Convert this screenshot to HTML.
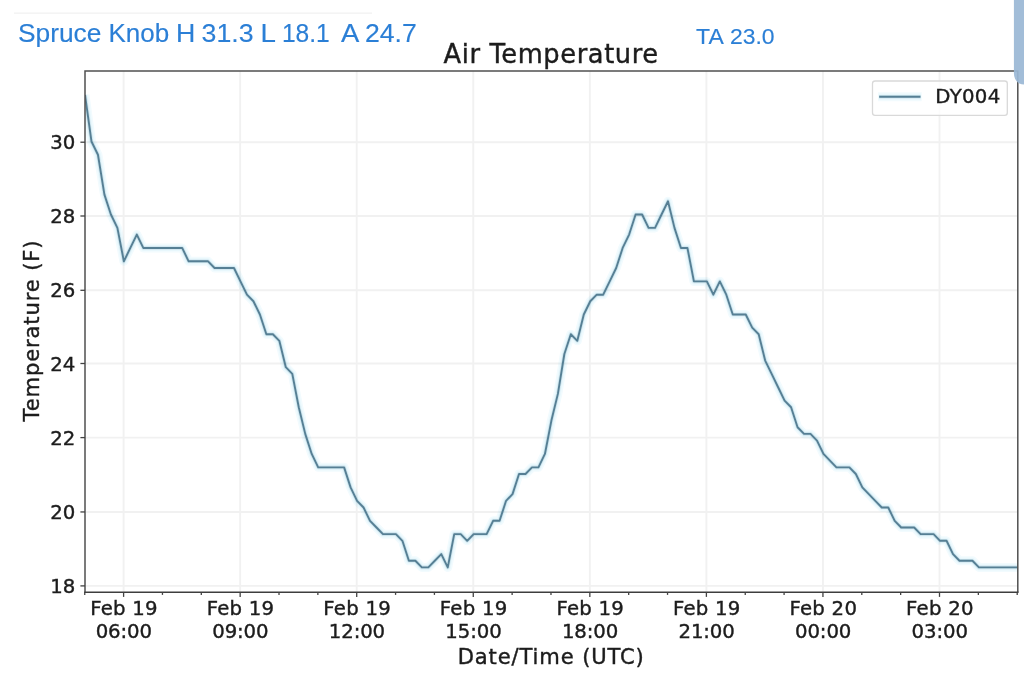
<!DOCTYPE html>
<html lang="en">
<head>
<meta charset="utf-8">
<title>Spruce Knob Air Temperature</title>
<style>
html,body{margin:0;padding:0;background:#fff;}
body{width:1024px;height:680px;overflow:hidden;position:relative;}
body>svg{position:absolute;left:0;top:0;display:block;}
.dj{font-family:'DejaVu Sans', 'Liberation Sans', sans-serif;fill:#1c1c1c;stroke:#1c1c1c;stroke-width:0.4px;}
.hd{font-family:'Liberation Sans', sans-serif;fill:#2b7fd6;stroke:#2b7fd6;stroke-width:0.15px;}
</style>
</head>
<body>
<svg width="1024" height="680" viewBox="0 0 1024 680">
<rect x="0" y="0" width="1024" height="680" fill="#ffffff"/>
<line x1="14" y1="13.1" x2="372" y2="13.1" stroke="#f1f1f1" stroke-width="1.2"/>
<text class="hd" y="41.9" font-size="25.8"><tspan x="18.0" textLength="83.4" lengthAdjust="spacingAndGlyphs">Spruce</tspan> <tspan x="108.4" textLength="60.7" lengthAdjust="spacingAndGlyphs">Knob</tspan> <tspan x="176.0" textLength="19.3" lengthAdjust="spacingAndGlyphs">H</tspan> <tspan x="201.6" textLength="52.0" lengthAdjust="spacingAndGlyphs">31.3</tspan> <tspan x="260.4" textLength="14.4" lengthAdjust="spacingAndGlyphs">L</tspan> <tspan x="281.9" textLength="47.8" lengthAdjust="spacingAndGlyphs">18.1</tspan> <tspan x="341.1" textLength="16.8" lengthAdjust="spacingAndGlyphs">A</tspan> <tspan x="364.9" textLength="51.8" lengthAdjust="spacingAndGlyphs">24.7</tspan></text>
<text class="hd" y="43.5" font-size="22"><tspan x="696.1" textLength="26.4" lengthAdjust="spacingAndGlyphs">TA</tspan> <tspan x="730.0" textLength="44.6" lengthAdjust="spacingAndGlyphs">23.0</tspan></text>
<text class="dj" transform="translate(443.6,62.7) scale(1,1.045)" font-size="25.7" letter-spacing="0.6">Air Temperature</text>
<g stroke="#f1f1f1" stroke-width="1.9" fill="none">
<line x1="123.60" y1="71.0" x2="123.60" y2="592.0"/>
<line x1="240.16" y1="71.0" x2="240.16" y2="592.0"/>
<line x1="356.71" y1="71.0" x2="356.71" y2="592.0"/>
<line x1="473.27" y1="71.0" x2="473.27" y2="592.0"/>
<line x1="589.83" y1="71.0" x2="589.83" y2="592.0"/>
<line x1="706.39" y1="71.0" x2="706.39" y2="592.0"/>
<line x1="822.94" y1="71.0" x2="822.94" y2="592.0"/>
<line x1="939.50" y1="71.0" x2="939.50" y2="592.0"/>
<line x1="85.0" y1="585.90" x2="1017.8" y2="585.90"/>
<line x1="85.0" y1="511.95" x2="1017.8" y2="511.95"/>
<line x1="85.0" y1="437.60" x2="1017.8" y2="437.60"/>
<line x1="85.0" y1="363.50" x2="1017.8" y2="363.50"/>
<line x1="85.0" y1="290.30" x2="1017.8" y2="290.30"/>
<line x1="85.0" y1="216.00" x2="1017.8" y2="216.00"/>
<line x1="85.0" y1="142.20" x2="1017.8" y2="142.20"/>
</g>
<svg x="85.0" y="71.0" width="932.80" height="521.0" viewBox="85.0 71.0 932.80 521.0">
<g fill="none" stroke-linejoin="round" stroke-linecap="butt" style="mix-blend-mode:multiply">
<polyline points="85.00,94.90 91.48,141.46 97.96,154.75 104.43,194.60 110.91,214.52 117.39,227.89 123.87,261.32 130.34,247.95 136.82,234.57 143.30,247.95 149.78,247.95 156.26,247.95 162.73,247.95 169.21,247.95 175.69,247.95 182.17,247.95 188.64,261.32 195.12,261.32 201.60,261.32 208.08,261.32 214.56,268.01 221.03,268.01 227.51,268.01 233.99,268.01 240.47,281.38 246.94,294.69 253.42,301.28 259.90,314.46 266.38,334.22 272.86,334.22 279.33,340.81 285.81,367.21 292.29,373.87 298.77,407.22 305.24,433.89 311.72,453.96 318.20,467.34 324.68,467.34 331.16,467.34 337.63,467.34 344.11,467.34 350.59,487.41 357.07,500.80 363.54,507.49 370.02,520.82 376.50,527.48 382.98,534.13 389.46,534.13 395.93,534.13 402.41,540.79 408.89,560.76 415.37,560.76 421.84,567.41 428.32,567.41 434.80,560.76 441.28,554.10 447.76,567.41 454.23,534.13 460.71,534.13 467.19,540.79 473.67,534.13 480.14,534.13 486.62,534.13 493.10,520.82 499.58,520.82 506.06,500.80 512.53,494.11 519.01,474.03 525.49,474.03 531.97,467.34 538.44,467.34 544.92,453.96 551.40,420.56 557.88,393.88 564.36,353.98 570.83,334.22 577.31,340.81 583.79,314.46 590.27,301.28 596.74,294.69 603.22,294.69 609.70,281.38 616.18,268.01 622.66,247.95 629.13,234.57 635.61,214.52 642.09,214.52 648.57,227.89 655.04,227.89 661.52,214.52 668.00,201.24 674.48,227.89 680.96,247.95 687.43,247.95 693.91,281.38 700.39,281.38 706.87,281.38 713.34,294.69 719.82,281.38 726.30,294.69 732.78,314.46 739.26,314.46 745.73,314.46 752.21,327.63 758.69,334.22 765.17,360.57 771.64,373.87 778.12,387.21 784.60,400.55 791.08,407.22 797.56,427.23 804.03,433.89 810.51,433.89 816.99,440.57 823.47,453.96 829.94,460.65 836.42,467.34 842.90,467.34 849.38,467.34 855.86,474.03 862.33,487.41 868.81,494.11 875.29,500.80 881.77,507.49 888.24,507.49 894.72,520.82 901.20,527.48 907.68,527.48 914.16,527.48 920.63,534.13 927.11,534.13 933.59,534.13 940.07,540.79 946.54,540.79 953.02,554.10 959.50,560.76 965.98,560.76 972.46,560.76 978.93,567.41 985.41,567.41 991.89,567.41 998.37,567.41 1004.84,567.41 1011.32,567.41 1017.80,567.41" stroke="#f2fbfe" stroke-width="9"/>
<polyline points="85.00,94.90 91.48,141.46 97.96,154.75 104.43,194.60 110.91,214.52 117.39,227.89 123.87,261.32 130.34,247.95 136.82,234.57 143.30,247.95 149.78,247.95 156.26,247.95 162.73,247.95 169.21,247.95 175.69,247.95 182.17,247.95 188.64,261.32 195.12,261.32 201.60,261.32 208.08,261.32 214.56,268.01 221.03,268.01 227.51,268.01 233.99,268.01 240.47,281.38 246.94,294.69 253.42,301.28 259.90,314.46 266.38,334.22 272.86,334.22 279.33,340.81 285.81,367.21 292.29,373.87 298.77,407.22 305.24,433.89 311.72,453.96 318.20,467.34 324.68,467.34 331.16,467.34 337.63,467.34 344.11,467.34 350.59,487.41 357.07,500.80 363.54,507.49 370.02,520.82 376.50,527.48 382.98,534.13 389.46,534.13 395.93,534.13 402.41,540.79 408.89,560.76 415.37,560.76 421.84,567.41 428.32,567.41 434.80,560.76 441.28,554.10 447.76,567.41 454.23,534.13 460.71,534.13 467.19,540.79 473.67,534.13 480.14,534.13 486.62,534.13 493.10,520.82 499.58,520.82 506.06,500.80 512.53,494.11 519.01,474.03 525.49,474.03 531.97,467.34 538.44,467.34 544.92,453.96 551.40,420.56 557.88,393.88 564.36,353.98 570.83,334.22 577.31,340.81 583.79,314.46 590.27,301.28 596.74,294.69 603.22,294.69 609.70,281.38 616.18,268.01 622.66,247.95 629.13,234.57 635.61,214.52 642.09,214.52 648.57,227.89 655.04,227.89 661.52,214.52 668.00,201.24 674.48,227.89 680.96,247.95 687.43,247.95 693.91,281.38 700.39,281.38 706.87,281.38 713.34,294.69 719.82,281.38 726.30,294.69 732.78,314.46 739.26,314.46 745.73,314.46 752.21,327.63 758.69,334.22 765.17,360.57 771.64,373.87 778.12,387.21 784.60,400.55 791.08,407.22 797.56,427.23 804.03,433.89 810.51,433.89 816.99,440.57 823.47,453.96 829.94,460.65 836.42,467.34 842.90,467.34 849.38,467.34 855.86,474.03 862.33,487.41 868.81,494.11 875.29,500.80 881.77,507.49 888.24,507.49 894.72,520.82 901.20,527.48 907.68,527.48 914.16,527.48 920.63,534.13 927.11,534.13 933.59,534.13 940.07,540.79 946.54,540.79 953.02,554.10 959.50,560.76 965.98,560.76 972.46,560.76 978.93,567.41 985.41,567.41 991.89,567.41 998.37,567.41 1004.84,567.41 1011.32,567.41 1017.80,567.41" stroke="#e8f7fc" stroke-width="6"/>
<polyline points="85.00,94.90 91.48,141.46 97.96,154.75 104.43,194.60 110.91,214.52 117.39,227.89 123.87,261.32 130.34,247.95 136.82,234.57 143.30,247.95 149.78,247.95 156.26,247.95 162.73,247.95 169.21,247.95 175.69,247.95 182.17,247.95 188.64,261.32 195.12,261.32 201.60,261.32 208.08,261.32 214.56,268.01 221.03,268.01 227.51,268.01 233.99,268.01 240.47,281.38 246.94,294.69 253.42,301.28 259.90,314.46 266.38,334.22 272.86,334.22 279.33,340.81 285.81,367.21 292.29,373.87 298.77,407.22 305.24,433.89 311.72,453.96 318.20,467.34 324.68,467.34 331.16,467.34 337.63,467.34 344.11,467.34 350.59,487.41 357.07,500.80 363.54,507.49 370.02,520.82 376.50,527.48 382.98,534.13 389.46,534.13 395.93,534.13 402.41,540.79 408.89,560.76 415.37,560.76 421.84,567.41 428.32,567.41 434.80,560.76 441.28,554.10 447.76,567.41 454.23,534.13 460.71,534.13 467.19,540.79 473.67,534.13 480.14,534.13 486.62,534.13 493.10,520.82 499.58,520.82 506.06,500.80 512.53,494.11 519.01,474.03 525.49,474.03 531.97,467.34 538.44,467.34 544.92,453.96 551.40,420.56 557.88,393.88 564.36,353.98 570.83,334.22 577.31,340.81 583.79,314.46 590.27,301.28 596.74,294.69 603.22,294.69 609.70,281.38 616.18,268.01 622.66,247.95 629.13,234.57 635.61,214.52 642.09,214.52 648.57,227.89 655.04,227.89 661.52,214.52 668.00,201.24 674.48,227.89 680.96,247.95 687.43,247.95 693.91,281.38 700.39,281.38 706.87,281.38 713.34,294.69 719.82,281.38 726.30,294.69 732.78,314.46 739.26,314.46 745.73,314.46 752.21,327.63 758.69,334.22 765.17,360.57 771.64,373.87 778.12,387.21 784.60,400.55 791.08,407.22 797.56,427.23 804.03,433.89 810.51,433.89 816.99,440.57 823.47,453.96 829.94,460.65 836.42,467.34 842.90,467.34 849.38,467.34 855.86,474.03 862.33,487.41 868.81,494.11 875.29,500.80 881.77,507.49 888.24,507.49 894.72,520.82 901.20,527.48 907.68,527.48 914.16,527.48 920.63,534.13 927.11,534.13 933.59,534.13 940.07,540.79 946.54,540.79 953.02,554.10 959.50,560.76 965.98,560.76 972.46,560.76 978.93,567.41 985.41,567.41 991.89,567.41 998.37,567.41 1004.84,567.41 1011.32,567.41 1017.80,567.41" stroke="#cde4ed" stroke-width="3.6"/>
</g>
<polyline points="85.00,94.90 91.48,141.46 97.96,154.75 104.43,194.60 110.91,214.52 117.39,227.89 123.87,261.32 130.34,247.95 136.82,234.57 143.30,247.95 149.78,247.95 156.26,247.95 162.73,247.95 169.21,247.95 175.69,247.95 182.17,247.95 188.64,261.32 195.12,261.32 201.60,261.32 208.08,261.32 214.56,268.01 221.03,268.01 227.51,268.01 233.99,268.01 240.47,281.38 246.94,294.69 253.42,301.28 259.90,314.46 266.38,334.22 272.86,334.22 279.33,340.81 285.81,367.21 292.29,373.87 298.77,407.22 305.24,433.89 311.72,453.96 318.20,467.34 324.68,467.34 331.16,467.34 337.63,467.34 344.11,467.34 350.59,487.41 357.07,500.80 363.54,507.49 370.02,520.82 376.50,527.48 382.98,534.13 389.46,534.13 395.93,534.13 402.41,540.79 408.89,560.76 415.37,560.76 421.84,567.41 428.32,567.41 434.80,560.76 441.28,554.10 447.76,567.41 454.23,534.13 460.71,534.13 467.19,540.79 473.67,534.13 480.14,534.13 486.62,534.13 493.10,520.82 499.58,520.82 506.06,500.80 512.53,494.11 519.01,474.03 525.49,474.03 531.97,467.34 538.44,467.34 544.92,453.96 551.40,420.56 557.88,393.88 564.36,353.98 570.83,334.22 577.31,340.81 583.79,314.46 590.27,301.28 596.74,294.69 603.22,294.69 609.70,281.38 616.18,268.01 622.66,247.95 629.13,234.57 635.61,214.52 642.09,214.52 648.57,227.89 655.04,227.89 661.52,214.52 668.00,201.24 674.48,227.89 680.96,247.95 687.43,247.95 693.91,281.38 700.39,281.38 706.87,281.38 713.34,294.69 719.82,281.38 726.30,294.69 732.78,314.46 739.26,314.46 745.73,314.46 752.21,327.63 758.69,334.22 765.17,360.57 771.64,373.87 778.12,387.21 784.60,400.55 791.08,407.22 797.56,427.23 804.03,433.89 810.51,433.89 816.99,440.57 823.47,453.96 829.94,460.65 836.42,467.34 842.90,467.34 849.38,467.34 855.86,474.03 862.33,487.41 868.81,494.11 875.29,500.80 881.77,507.49 888.24,507.49 894.72,520.82 901.20,527.48 907.68,527.48 914.16,527.48 920.63,534.13 927.11,534.13 933.59,534.13 940.07,540.79 946.54,540.79 953.02,554.10 959.50,560.76 965.98,560.76 972.46,560.76 978.93,567.41 985.41,567.41 991.89,567.41 998.37,567.41 1004.84,567.41 1011.32,567.41 1017.80,567.41" fill="none" stroke-linejoin="round" stroke="#567f94" stroke-width="1.9"/>
</svg>
<path d="M85.0 592.2 V71.0 H1017.8 V592.2" fill="none" stroke="#505050" stroke-width="1.5" stroke-linejoin="miter"/>
<line x1="84.25" y1="592.25" x2="1018.55" y2="592.25" stroke="#3e3e3e" stroke-width="1.55"/>
<g stroke="#424242" stroke-width="1.3" fill="none">
<line x1="80.4" y1="585.90" x2="85.0" y2="585.90"/>
<line x1="80.4" y1="511.95" x2="85.0" y2="511.95"/>
<line x1="80.4" y1="437.60" x2="85.0" y2="437.60"/>
<line x1="80.4" y1="363.50" x2="85.0" y2="363.50"/>
<line x1="80.4" y1="290.30" x2="85.0" y2="290.30"/>
<line x1="80.4" y1="216.00" x2="85.0" y2="216.00"/>
<line x1="80.4" y1="142.20" x2="85.0" y2="142.20"/>
<line x1="84.75" y1="592.0" x2="84.75" y2="594.9"/>
<line x1="123.60" y1="592.0" x2="123.60" y2="596.9"/>
<line x1="162.45" y1="592.0" x2="162.45" y2="594.9"/>
<line x1="201.30" y1="592.0" x2="201.30" y2="594.9"/>
<line x1="240.16" y1="592.0" x2="240.16" y2="596.9"/>
<line x1="279.01" y1="592.0" x2="279.01" y2="594.9"/>
<line x1="317.86" y1="592.0" x2="317.86" y2="594.9"/>
<line x1="356.71" y1="592.0" x2="356.71" y2="596.9"/>
<line x1="395.57" y1="592.0" x2="395.57" y2="594.9"/>
<line x1="434.42" y1="592.0" x2="434.42" y2="594.9"/>
<line x1="473.27" y1="592.0" x2="473.27" y2="596.9"/>
<line x1="512.12" y1="592.0" x2="512.12" y2="594.9"/>
<line x1="550.98" y1="592.0" x2="550.98" y2="594.9"/>
<line x1="589.83" y1="592.0" x2="589.83" y2="596.9"/>
<line x1="628.68" y1="592.0" x2="628.68" y2="594.9"/>
<line x1="667.53" y1="592.0" x2="667.53" y2="594.9"/>
<line x1="706.39" y1="592.0" x2="706.39" y2="596.9"/>
<line x1="745.24" y1="592.0" x2="745.24" y2="594.9"/>
<line x1="784.09" y1="592.0" x2="784.09" y2="594.9"/>
<line x1="822.94" y1="592.0" x2="822.94" y2="596.9"/>
<line x1="861.80" y1="592.0" x2="861.80" y2="594.9"/>
<line x1="900.65" y1="592.0" x2="900.65" y2="594.9"/>
<line x1="939.50" y1="592.0" x2="939.50" y2="596.9"/>
<line x1="978.35" y1="592.0" x2="978.35" y2="594.9"/>
<line x1="1017.20" y1="592.0" x2="1017.20" y2="594.9"/>
</g>
<text class="dj" transform="translate(75.40,592.90) scale(1,1.03)" font-size="19.7" text-anchor="end">18</text>
<text class="dj" transform="translate(75.40,518.95) scale(1,1.03)" font-size="19.7" text-anchor="end">20</text>
<text class="dj" transform="translate(75.40,444.60) scale(1,1.03)" font-size="19.7" text-anchor="end">22</text>
<text class="dj" transform="translate(75.40,370.50) scale(1,1.03)" font-size="19.7" text-anchor="end">24</text>
<text class="dj" transform="translate(75.40,297.30) scale(1,1.03)" font-size="19.7" text-anchor="end">26</text>
<text class="dj" transform="translate(75.40,223.00) scale(1,1.03)" font-size="19.7" text-anchor="end">28</text>
<text class="dj" transform="translate(75.40,149.20) scale(1,1.03)" font-size="19.7" text-anchor="end">30</text>
<text class="dj" transform="translate(124.00,614.60) scale(1,1.03)" font-size="19.7" text-anchor="middle" letter-spacing="0.25">Feb 19</text>
<text class="dj" transform="translate(123.80,637.50) scale(1,1.03)" font-size="19.7" text-anchor="middle" letter-spacing="-0.1">06:00</text>
<text class="dj" transform="translate(240.56,614.60) scale(1,1.03)" font-size="19.7" text-anchor="middle" letter-spacing="0.25">Feb 19</text>
<text class="dj" transform="translate(240.36,637.50) scale(1,1.03)" font-size="19.7" text-anchor="middle" letter-spacing="-0.1">09:00</text>
<text class="dj" transform="translate(357.11,614.60) scale(1,1.03)" font-size="19.7" text-anchor="middle" letter-spacing="0.25">Feb 19</text>
<text class="dj" transform="translate(356.91,637.50) scale(1,1.03)" font-size="19.7" text-anchor="middle" letter-spacing="-0.1">12:00</text>
<text class="dj" transform="translate(473.67,614.60) scale(1,1.03)" font-size="19.7" text-anchor="middle" letter-spacing="0.25">Feb 19</text>
<text class="dj" transform="translate(473.47,637.50) scale(1,1.03)" font-size="19.7" text-anchor="middle" letter-spacing="-0.1">15:00</text>
<text class="dj" transform="translate(590.23,614.60) scale(1,1.03)" font-size="19.7" text-anchor="middle" letter-spacing="0.25">Feb 19</text>
<text class="dj" transform="translate(590.03,637.50) scale(1,1.03)" font-size="19.7" text-anchor="middle" letter-spacing="-0.1">18:00</text>
<text class="dj" transform="translate(706.79,614.60) scale(1,1.03)" font-size="19.7" text-anchor="middle" letter-spacing="0.25">Feb 19</text>
<text class="dj" transform="translate(706.59,637.50) scale(1,1.03)" font-size="19.7" text-anchor="middle" letter-spacing="-0.1">21:00</text>
<text class="dj" transform="translate(823.34,614.60) scale(1,1.03)" font-size="19.7" text-anchor="middle" letter-spacing="0.25">Feb 20</text>
<text class="dj" transform="translate(823.14,637.50) scale(1,1.03)" font-size="19.7" text-anchor="middle" letter-spacing="-0.1">00:00</text>
<text class="dj" transform="translate(939.90,614.60) scale(1,1.03)" font-size="19.7" text-anchor="middle" letter-spacing="0.25">Feb 20</text>
<text class="dj" transform="translate(939.70,637.50) scale(1,1.03)" font-size="19.7" text-anchor="middle" letter-spacing="-0.1">03:00</text>
<text class="dj" x="457.7" y="663.6" font-size="21.1" letter-spacing="0.86">Date/Time (UTC)</text>
<text class="dj" font-size="21.1" letter-spacing="0.86" transform="translate(39.4,421.5) rotate(-90)">Temperature (F)</text>
<rect x="872.5" y="81" width="134.8" height="34.3" rx="2.6" ry="2.6" fill="#ffffff" fill-opacity="0.8" stroke="#d9d9d9" stroke-width="1.3"/>
<line x1="878" y1="96.8" x2="921.7" y2="96.8" stroke="#f2fbfe" stroke-width="9"/>
<line x1="878.6" y1="96.8" x2="921.1" y2="96.8" stroke="#e8f7fc" stroke-width="6"/>
<line x1="879" y1="96.8" x2="920.7" y2="96.8" stroke="#cde4ed" stroke-width="3.6"/>
<line x1="879.2" y1="96.8" x2="920.5" y2="96.8" stroke="#567f94" stroke-width="1.9"/>
<text class="dj" transform="translate(935.30,103.40) scale(1,1.03)" font-size="19.7" letter-spacing="0.3">DY004</text>
<path d="M1013.9 0 H1024 V84.6 C1018 84.2 1013.9 80 1013.9 73 Z" fill="#9bb8d5" fill-opacity="0.93"/>
</svg>
</body>
</html>
